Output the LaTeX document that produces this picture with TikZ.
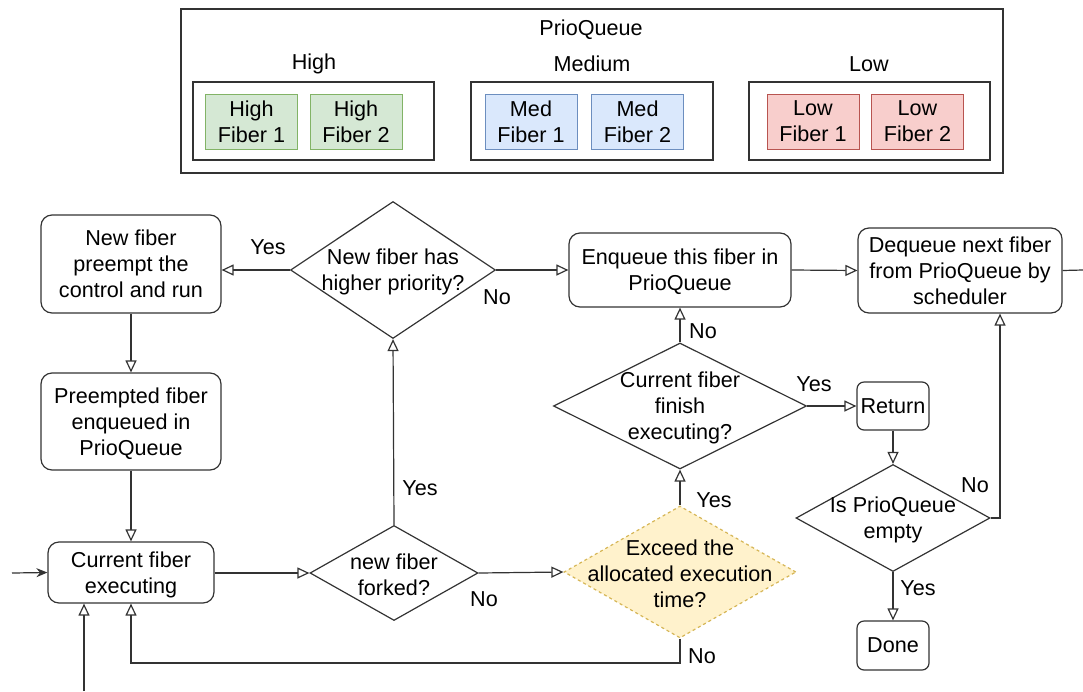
\documentclass[tikz,border=0pt]{standalone}
\usepackage{fontspec}
\setmainfont{Liberation Sans}
\usetikzlibrary{shapes.geometric,arrows.meta}
\definecolor{ln}{HTML}{333333}
\definecolor{gfill}{HTML}{D5E8D4}\definecolor{gline}{HTML}{82B366}
\definecolor{bfill}{HTML}{DAE8FC}\definecolor{bline}{HTML}{6C8EBF}
\definecolor{rfill}{HTML}{F8CECC}\definecolor{rline}{HTML}{B85450}
\definecolor{yfill}{HTML}{FFF2CC}\definecolor{yline}{HTML}{D6B656}
\begin{document}
\begin{tikzpicture}[x=1pt,y=-1pt,
  every node/.style={font=\fontsize{21.6}{25.9}\selectfont, text=black},
  box/.style={draw=ln, line width=1.2pt, rectangle, inner sep=0pt, align=center, text depth=-2pt},
  rbox/.style={box, rounded corners=11pt},
  sbox/.style={box, rounded corners=7pt},
  fib/.style={rectangle, line width=1pt, inner sep=0pt, align=center, minimum width=92pt, minimum height=55pt},
  dia/.style={diamond, draw=ln, line width=1.2pt, inner sep=0pt, aspect=1},
  dlab/.style={align=center, yshift=-2pt},
  lbl/.style={inner sep=0pt},
  arr/.style={draw=ln, line width=1.2pt, -{Triangle[open,length=12pt,width=11pt]}},
  ln/.style={draw=ln, line width=1.2pt}]
\useasboundingbox (0,0) rectangle (1083,691);
% PrioQueue container
\node[box, minimum width=822pt, minimum height=164pt] (pq) at (592,91) {};
\node[lbl] (pqt) at (591,30) {PrioQueue};
\node[lbl] (hit) at (314,64) {High};
\node[lbl] (met) at (592,64) {Medium};
\node[lbl] (lot) at (869,64) {Low};
\node[box, minimum width=241pt, minimum height=78pt] (hib) at (313.5,121) {};
\node[box, minimum width=242pt, minimum height=78pt] (meb) at (592,121) {};
\node[box, minimum width=241pt, minimum height=78pt] (lob) at (869.5,121) {};
\node[fib, draw=gline, fill=gfill] (h1) at (251.5,121.5) {High\\Fiber 1};
\node[fib, draw=gline, fill=gfill] (h2) at (356,121.5) {High\\Fiber 2};
\node[fib, draw=bline, fill=bfill] (m1) at (531,121.5) {Med\\Fiber 1};
\node[fib, draw=bline, fill=bfill] (m2) at (637.5,121.5) {Med\\Fiber 2};
\node[fib, draw=rline, fill=rfill] (l1) at (813,121.5) {Low\\Fiber 1};
\node[fib, draw=rline, fill=rfill] (l2) at (917.5,121.5) {Low\\Fiber 2};
% flowchart nodes
\node[rbox, minimum width=180pt, minimum height=98pt] (A) at (131,264) {New fiber\\preempt the\\control and run};
\node[rbox, minimum width=180pt, minimum height=97pt] (B) at (131,421.5) {Preempted fiber\\enqueued in\\PrioQueue};
\node[rbox, minimum width=166pt, minimum height=61pt] (C) at (131,572.5) {Current fiber\\executing};
\node[dia, minimum width=205pt, minimum height=137pt,
  label={[dlab]center:New fiber has\\higher priority?}] (D1) at (393,270) {};
\node[dia, minimum width=168pt, minimum height=95pt,
  label={[dlab]center:new fiber\\forked?}] (D2) at (394,573) {};
\node[dia, draw=yline, fill=yfill, dashed, minimum width=232pt, minimum height=132pt,
  label={[dlab]center:Exceed the\\allocated execution\\time?}] (E) at (680,572) {};
\node[dia, minimum width=253pt, minimum height=126pt,
  label={[dlab]center:Current fiber\\finish\\executing?}] (F) at (680,406) {};
\node[rbox, minimum width=222pt, minimum height=74pt] (G) at (680,270) {Enqueue this fiber in\\PrioQueue};
\node[rbox, minimum width=204pt, minimum height=85pt] (H) at (960,270.5) {Dequeue next fiber\\from PrioQueue by\\scheduler};
\node[sbox, minimum width=72pt, minimum height=48pt] (R) at (893,406) {Return};
\node[dia, minimum width=194pt, minimum height=107pt,
  label={[dlab]center:Is PrioQueue\\empty}] (Q) at (893,518) {};
\node[sbox, minimum width=72pt, minimum height=49pt] (Dn) at (893,645.5) {Done};
% edge labels
\node[lbl] (y1) at (268,247) {Yes};
\node[lbl] (n1) at (497,297) {No};
\node[lbl] (y2) at (420,488) {Yes};
\node[lbl] (n2) at (484,599) {No};
\node[lbl] (y3) at (714,500) {Yes};
\node[lbl] (n3) at (702,656) {No};
\node[lbl] (n4) at (703,331) {No};
\node[lbl] (y4) at (814,384) {Yes};
\node[lbl] (n5) at (975,485) {No};
\node[lbl] (y5) at (918,588) {Yes};
% coordinates
\coordinate (in1) at (12,573);
\coordinate (in2) at (84,691);
\coordinate (out1) at (1083,270);
\coordinate (lp) at (680,663);
% connectors
\draw[draw=ln, line width=1.2pt, -{Stealth[length=11pt,width=9pt]}] (in1) -- (C.west);
\draw[arr] (in2) -- (in2 |- C.south);
\draw[arr] (A.south) -- (B.north);
\draw[arr] (B.south) -- (C.north);
\draw[arr] (D1.west) -- (D1.west -| A.east);
\draw[arr] (C.east |- D2.west) -- (D2.west);
\draw[arr] (D2.north) -- (D1.south);
\draw[arr] (D2.east) -- (E.west);
\draw[arr] (E.south) -- (lp) -| (C.south);
\draw[arr] (E.north) -- (F.south);
\draw[arr] (F.north) -- (G.south);
\draw[arr] (D1.east) -- (G.west);
\draw[arr] (G.east) -- (H.west);
\draw[ln] (H.east) -- (out1);
\draw[arr] (F.east) -- (R.west);
\draw[arr] (R.south) -- (Q.north);
\draw[arr] (Q.east) -| ([xshift=40pt]H.south);
\draw[arr] (Q.south) -- (Dn.north);
\end{tikzpicture}
\end{document}
